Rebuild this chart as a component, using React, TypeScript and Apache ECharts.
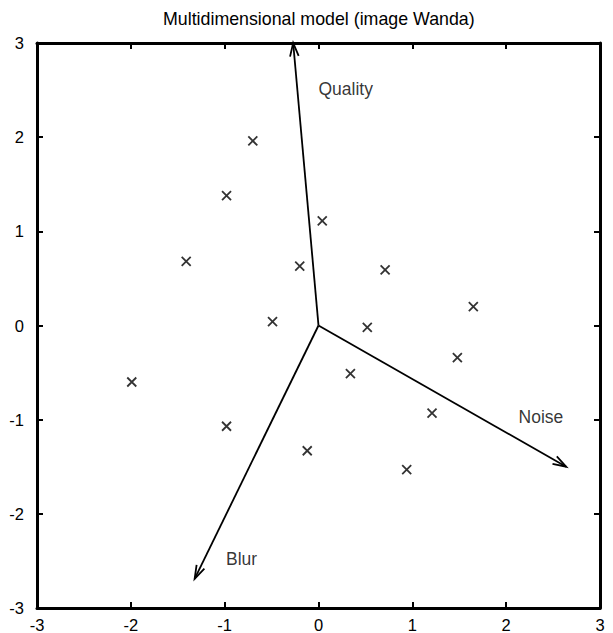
import React, { useEffect, useRef } from "react";
import * as echarts from "echarts";

const titleText = "Multidimensional model (image Wanda)";
const pointsX = [-0.70, -0.98, 0.04, -1.41, -0.20, 0.71, 1.65, -0.49, 0.52, 1.48, -1.99, 0.34, -0.98, 1.21, -0.12, 0.94];
const pointsY = [1.96, 1.38, 1.11, 0.68, 0.63, 0.59, 0.20, 0.04, -0.02, -0.34, -0.60, -0.51, -1.07, -0.93, -1.33, -1.53];
const arrowNames = ["Quality", "Noise", "Blur"];
const arrowEndX = [-0.27, 2.64, -1.32];
const arrowEndY = [3.0, -1.5, -2.69];
const labelX = [0.29, 2.37, -0.82];
const labelY = [2.51, -0.97, -2.48];
const axisMin = -3;
const axisMax = 3;
const axisStep = 1;

const FONT = "'Liberation Sans', Arial, Helvetica, sans-serif";

export default function App() {
  const ref = useRef<HTMLDivElement>(null);
  useEffect(() => {
    if (!ref.current) return;
    const chart = echarts.init(ref.current, undefined, { renderer: "svg" });
    const baseAxis = {
      type: "value",
      min: axisMin,
      max: axisMax,
      interval: axisStep,
      splitLine: { show: false },
      axisLine: { show: true, onZero: false, lineStyle: { color: "#000", width: 3 } },
      axisTick: { show: true, inside: true, length: 6, lineStyle: { color: "#000", width: 2 } },
    };
    const labelStyle = { color: "#000", fontSize: 16.5, fontFamily: FONT };
    chart.setOption({
      animation: false,
      backgroundColor: "#fff",
      title: {
        text: titleText,
        left: 158,
        top: 5,
        textStyle: { color: "#000", fontSize: 17.8, fontWeight: "normal", fontFamily: FONT },
      },
      grid: { left: 37, right: 13, top: 43, bottom: 23, containLabel: false },
      xAxis: [
        { ...baseAxis, position: "bottom", axisLabel: { ...labelStyle, margin: 8 } },
        { ...baseAxis, position: "top", axisLabel: { show: false } },
      ],
      yAxis: [
        { ...baseAxis, position: "left", axisLabel: { ...labelStyle, margin: 13 } },
        { ...baseAxis, position: "right", axisLabel: { show: false } },
      ],
      series: [
        {
          type: "scatter",
          xAxisIndex: 0,
          yAxisIndex: 0,
          symbol: "path://M0,0L10,10M10,0L0,10",
          symbolSize: 9,
          itemStyle: { color: "none", borderColor: "#000", borderWidth: 1.8 },
          data: pointsX.map((x, i) => [x, pointsY[i]]),
        },
        {
          type: "custom",
          xAxisIndex: 0,
          yAxisIndex: 0,
          data: arrowEndX.map((x, i) => [x, arrowEndY[i]]),
          renderItem: (params: any, api: any) => {
            const p0 = api.coord([0, 0]);
            const p1 = api.coord([api.value(0), api.value(1)]);
            const a = Math.atan2(p1[1] - p0[1], p1[0] - p0[0]);
            const L = 14;
            const th = (18 * Math.PI) / 180;
            const h1 = [p1[0] + L * Math.cos(a + Math.PI - th), p1[1] + L * Math.sin(a + Math.PI - th)];
            const h2 = [p1[0] + L * Math.cos(a + Math.PI + th), p1[1] + L * Math.sin(a + Math.PI + th)];
            return {
              type: "group",
              children: [
                {
                  type: "line",
                  shape: { x1: p0[0], y1: p0[1], x2: p1[0], y2: p1[1] },
                  style: { stroke: "#000", lineWidth: 1.8 },
                },
                {
                  type: "polyline",
                  shape: { points: [h1, p1, h2] },
                  style: { stroke: "#000", lineWidth: 1.8, fill: "none" },
                },
              ],
            };
          },
        },
        {
          type: "scatter",
          xAxisIndex: 0,
          yAxisIndex: 0,
          symbolSize: 0,
          data: labelX.map((x, i) => ({ value: [x, labelY[i]], name: arrowNames[i] })),
          label: {
            show: true,
            position: "inside",
            formatter: (p: any) => p.name,
            color: "#000",
            fontSize: 17.5,
            fontFamily: FONT,
          },
        },
      ],
    });
    return () => chart.dispose();
  }, []);
  return (
    <div
      ref={ref}
      style={{ position: "absolute", left: 0, top: 0, width: 613, height: 633 }}
    />
  );
}
